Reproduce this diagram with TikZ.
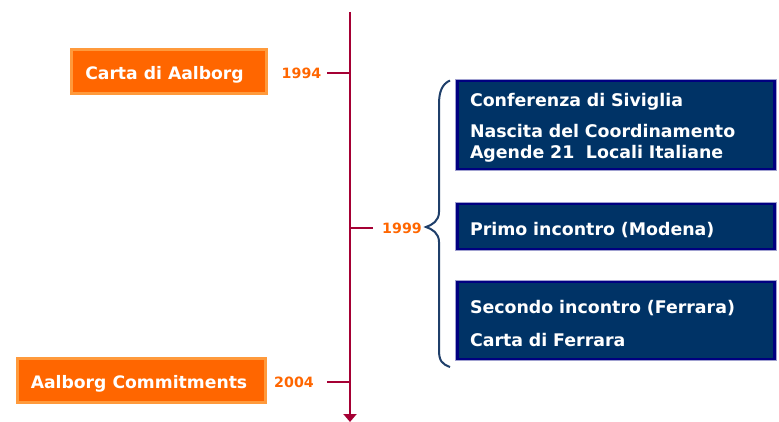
\documentclass[tikz,border=0pt]{standalone}
\usepackage{fontspec}
\setmainfont{DejaVu Sans}
\usetikzlibrary{arrows.meta}
\definecolor{lineRed}{HTML}{A50034}
\definecolor{orangeT}{HTML}{FF6600}
\definecolor{orangeB}{HTML}{FF9A3C}
\definecolor{navyF}{HTML}{003366}
\definecolor{navyB}{HTML}{000080}
\definecolor{navyL}{HTML}{A0A0D0}
\definecolor{braceC}{HTML}{1F3F6A}
\tikzset{
  x=1pt, y=-1pt,
  orangebox/.style={fill=orangeT, draw=orangeB, line width=3pt, inner sep=0pt, minimum height=44pt},
  orangetext/.style={text=white, font=\fontsize{17.2}{20}\selectfont\bfseries, inner sep=0pt},
  bluebox/.style={fill=navyF, draw=navyB, line width=2.5pt,
    preaction={draw=navyL, line width=4.5pt}, inner sep=0pt, minimum width=317pt},
  bluetext/.style={text=white, font=\fontsize{17.4}{21}\selectfont\bfseries, align=left,
    inner sep=0pt, text width=292pt},
  yearlbl/.style={text=orangeT, font=\fontsize{14.2}{16}\selectfont\bfseries, inner sep=0pt},
  tick/.style={draw=lineRed, line width=2.6pt},
}
\begin{document}
\begin{tikzpicture}
\useasboundingbox (0,0) rectangle (779,422);
% timeline
\coordinate (top) at (350,12);
\coordinate (bot) at (350,422);
\draw[lineRed, line width=2.6pt, -{Triangle[width=13pt,length=8pt]}] (top) -- (bot);
% ticks
\coordinate (t1a) at (327,73); \coordinate (t1b) at (350,73);
\coordinate (t2a) at (350,228); \coordinate (t2b) at (373,228);
\coordinate (t3a) at (327,382); \coordinate (t3b) at (350,382);
\draw[tick] (t1a) -- (t1b);
\draw[tick] (t2a) -- (t2b);
\draw[tick] (t3a) -- (t3b);
\node[yearlbl] (y1994) at (301.5,73) {1994};
\node[yearlbl] (y1999) at (402,228) {1999};
\node[yearlbl] (y2004) at (294,382) {2004};
% orange boxes
\node[orangebox, minimum width=195pt] (aal) at (168.5,71.5) {};
\node[orangetext] (aalt) at ([xshift=-4pt,yshift=-3.5pt]aal.center) {Carta di Aalborg};
\node[orangebox, minimum width=248pt] (com) at (141,380.5) {};
\node[orangetext] (comt) at ([xshift=-2pt,yshift=-3pt]com.center) {Aalborg Commitments};
% brace
\draw[braceC, line width=2pt] (450,80.5) .. controls (442,84) and (439,92) .. (439,104)
  -- (439,212) .. controls (439,221) and (432,225) .. (426,227)
  .. controls (432,229) and (439,233) .. (439,242)
  -- (439,350) .. controls (439,361) and (442,364) .. (450,367);
% blue boxes
\node[bluebox, minimum height=88pt] (b1) at (616,125) {};
\node[bluetext] (b1t) at ([yshift=-2.5pt]b1.center)
  {Conferenza di Siviglia\\[10pt]Nascita del Coordinamento\\Agende 21\ \ Locali Italiane};
\node[bluebox, minimum height=45pt] (b2) at (616,226.5) {};
\node[bluetext] (b2t) at ([yshift=-3.5pt]b2.center) {Primo incontro (Modena)};
\node[bluebox, minimum height=77pt] (b3) at (616,320.5) {};
\node[bluetext] (b3t) at ([yshift=-3.5pt]b3.center)
  {Secondo incontro (Ferrara)\\[12pt]Carta di Ferrara};
\end{tikzpicture}
\end{document}
